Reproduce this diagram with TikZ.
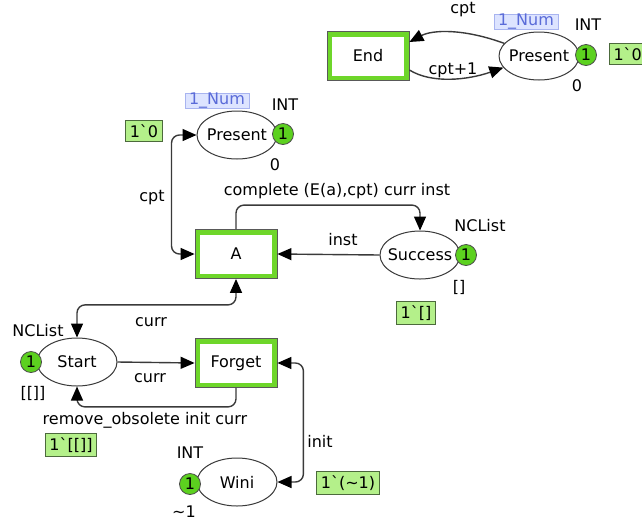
\documentclass[tikz,border=0pt]{standalone}
\usepackage{fontspec}
\setmainfont{DejaVu Sans}
\usetikzlibrary{arrows.meta,shapes.geometric}
\definecolor{trgreen}{HTML}{6ED62A}
\definecolor{tokgreen}{HTML}{5CD11F}
\definecolor{inigreen}{HTML}{B4F08A}
\definecolor{inidark}{HTML}{4C6A3C}
\definecolor{numblue}{HTML}{DDE4FF}
\definecolor{numline}{HTML}{A8B4F0}
\definecolor{numtext}{HTML}{5A6BD8}
\definecolor{arcgray}{HTML}{3A3A3A}

\begin{document}
\begin{tikzpicture}
[x=1pt,y=-1pt,font=\fontsize{16}{18}\selectfont]
\tikzset{tr/.style={draw=gray!70!black,line width=0.8pt,fill=trgreen,minimum width=82pt,minimum height=49pt,
  path picture={\fill[white] ([shift={(5pt,5pt)}]path picture bounding box.south west) rectangle ([shift={(-5pt,-5pt)}]path picture bounding box.north east);}}}
\tikzset{pl/.style={ellipse,draw=arcgray,line width=1pt,fill=white,minimum width=80pt,minimum height=48pt,inner xsep=-12pt,inner ysep=0pt}}
\tikzset{tok/.style={circle,draw=gray!60!black,line width=0.8pt,fill=tokgreen,minimum size=21pt,inner sep=0pt}}
\tikzset{ini/.style={draw=inidark,line width=1pt,fill=inigreen,inner xsep=4pt,inner ysep=4pt}}
\tikzset{num/.style={draw=numline,line width=0.8pt,fill=numblue,text=numtext,inner xsep=4pt,inner ysep=0pt}}
\tikzset{arc/.style={draw=arcgray,line width=1.4pt,rounded corners=8pt,-{Triangle[length=14pt,width=12pt,color=black]}}}
\tikzset{arc2/.style={arc,{Triangle[length=14pt,width=12pt,color=black]}-{Triangle[length=14pt,width=12pt,color=black]}}}
\useasboundingbox (0,0) rectangle (642,523);
\node [tr] (n1) at (368,56) {End};
\node [pl] (n2) at (539,56) {Present};
\node [tok] (n3) at (586,55) {1};
\node [ini,anchor=west] (n4) at (609,54) {1\textasciigrave 0};
\node [num] (n5) at (526,22) {1\_Num};
\node (n6) at (588,25) {INT};
\node (n7) at (577,86) {0};
\node (n8) at (463,10) {cpt};
\node (n9) at (453,70) {cpt+1};
\node [tr] (n10) at (236,254) {A};
\node [pl] (n11) at (237,135) {Present};
\node [tok] (n12) at (283,134) {1};
\node [num] (n13) at (217,101) {1\_Num};
\node (n14) at (285,105) {INT};
\node (n15) at (275,165) {0};
\node [ini] (n16) at (144,131) {1\textasciigrave 0};
\node [pl] (n17) at (420,255) {Success};
\node [tok] (n18) at (466,255) {1};
\node (n19) at (480,226) {NCList};
\node (n20) at (459,287) {[]};
\node [ini] (n21) at (416,313) {1\textasciigrave []};
\node [tr] (n22) at (236,363) {Forget};
\node [pl] (n23) at (77,362) {Start};
\node [tok] (n24) at (31,362) {1};
\node (n25) at (38,331) {NCList};
\node (n26) at (33,393) {[[]]};
\node [ini] (n27) at (71,445) {1\textasciigrave [[]]};
\node [pl] (n28) at (237,482) {Wini};
\node [tok] (n29) at (190,484) {1};
\node (n30) at (190,453) {INT};
\node (n31) at (184,512) {\textasciitilde 1};
\node [ini] (n32) at (348,483) {1\textasciigrave (\textasciitilde 1)};
% arc inscriptions
\node (n33) at (152,198) {cpt};
\node (n34) at (337,191) {complete (E(a),cpt) curr inst};
\node (n35) at (343,240) {inst};
\node (n36) at (151,322) {curr};
\node (n37) at (150,378) {curr};
\node (n38) at (145,420) {remove\_obsolete init curr};
\node (n39) at (320,441) {init};

\draw [arc] (n2.160) .. controls (462,28) and (432,30) .. ([yshift=14pt]n1.east);
\draw [arc] ([yshift=-14pt]n1.east) .. controls (432,84) and (468,80) .. (n2.198);
\foreach \from/\to in {n17.west/n10.east,n23.east/n22.west}
	\draw [arc] (\from) -- (\to);
\draw [arc2] (n11.west) -- ++(-25,0) |- (n10.west);
\draw [arc] (n10.north) -- ++(0,-24) -| (n17.north);
\draw [arc2] (n10.south) -- ++(0,26) -| (n23.north);
\draw [arc] (n22.south) -- ++(0,19) -| (n23.south);
\draw [arc2] (n22.east) -- ++(26,0) |- (n28.east);
\end{tikzpicture}
\end{document}
